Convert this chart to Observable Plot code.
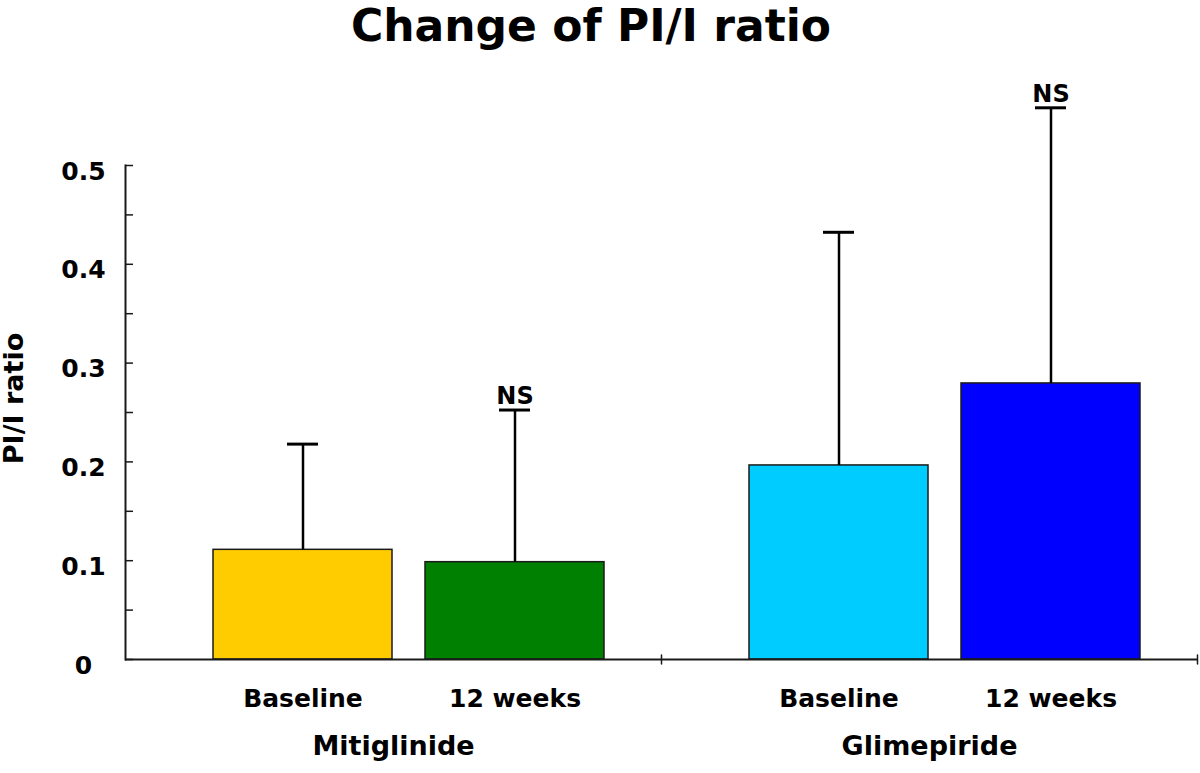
<!DOCTYPE html>
<html><head><meta charset="utf-8">
<script src="https://cdn.jsdelivr.net/npm/d3@7"></script>
<script src="https://cdn.jsdelivr.net/npm/@observablehq/plot@0.6"></script>
<style>
body{margin:0;background:#fff;font-family:"DejaVu Sans",sans-serif;}
#title{width:1200px;height:60px;box-sizing:border-box;padding-right:18px;text-align:center;font-weight:bold;font-size:44px;line-height:52px;color:#000;}
</style></head><body>
<div id="title">Change of PI/I ratio</div>
<div id="chart"></div>
<script>
// ---- data ----
const groups = ["Mitiglinide", "Mitiglinide", "Glimepiride", "Glimepiride"];
const periods = ["Baseline", "12 weeks", "Baseline", "12 weeks"];
const means = [0.111, 0.0985, 0.1964, 0.2794];
const sds = [0.107, 0.154, 0.236, 0.279];
const notes = ["", "NS", "", "NS"];
const groupOrder = ["Mitiglinide", "Glimepiride"];
const periodOrder = ["Baseline", "12 weeks"];
const majorTicks = [0, 0.1, 0.2, 0.3, 0.4, 0.5];
const minorTicks = [0.05, 0.15, 0.25, 0.35, 0.45];
const tickLabels = ["0", "0.1", "0.2", "0.3", "0.4", "0.5"];
const yLabel = "PI/I ratio";
const palette = ["#FFCC00", "#008000", "#00CCFF", "#0000FF"];

const rows = groups.map((g, i) => ({
  group: g, period: periods[i], mean: means[i], sd: sds[i], note: notes[i], key: g + " " + periods[i]
}));
const allTicks = majorTicks.concat(minorTicks);
const tickUp = {draw(context, l) { context.moveTo(0, 0); context.lineTo(0, -l); }};

const chart = Plot.plot({
  width: 1200, height: 713,
  marginTop: 105, marginBottom: 114, marginLeft: 125, marginRight: 3,
  style: {fontFamily: "DejaVu Sans", fontWeight: "bold", color: "#000", background: "#fff", overflow: "visible"},
  fx: {domain: groupOrder, padding: 0, axis: null},
  x: {domain: periodOrder, paddingInner: 0.155, paddingOuter: 0.338, align: 0.607},
  y: {domain: [0, 0.5]},
  color: {domain: rows.map(d => d.key), range: palette},
  marks: [
    Plot.barY(rows, {fx: "group", x: "period", y: "mean", fill: "key", stroke: "#1a1a1a", strokeWidth: 1.5}),
    Plot.ruleX(rows, {fx: "group", x: "period", y1: "mean", y2: d => d.mean + d.sd, stroke: "#000", strokeWidth: 2.5}),
    Plot.tickY(rows, {fx: "group", x: "period", y: d => d.mean + d.sd, stroke: "#000", strokeWidth: 3, insetLeft: 74, insetRight: 74}),
    Plot.text(rows.filter(d => d.note), {fx: "group", x: "period", y: d => d.mean + d.sd, text: "note", lineAnchor: "bottom", dy: -6, fontSize: 24, fontWeight: "bold", fill: "#000"}),
    Plot.ruleY([0], {stroke: "#1a1a1a", strokeWidth: 2}),
    Plot.frame({anchor: "left", facetAnchor: "left", stroke: "#1a1a1a", strokeWidth: 2}),
    Plot.vector([null], {frameAnchor: "bottom-right", length: 9, shape: tickUp, stroke: "#1a1a1a", strokeWidth: 1.5}),
    Plot.axisY({ticks: allTicks, tickSize: -8, text: null, label: null, strokeWidth: 1.5, stroke: "#1a1a1a"}),
    Plot.axisY({ticks: majorTicks, tickSize: 0, tickPadding: 42, textAnchor: "middle", dy: 6, label: null,
      tickFormat: d => tickLabels[majorTicks.indexOf(d)], fontSize: 25, fontWeight: "bold", fill: "#000"}),
    Plot.axisX({tickSize: 0, tickPadding: 30, fontSize: 25, fontWeight: "bold", label: null, fill: "#000"}),
    Plot.text(groupOrder, {fx: d => d, text: d => d, frameAnchor: "bottom", dy: 95, fontSize: 27, fontWeight: "bold", fill: "#000"}),
    Plot.text([yLabel], {fx: () => groupOrder[0], text: d => d, frameAnchor: "left", textAnchor: "middle", rotate: -90, dx: -111, dy: -14, fontSize: 27, fontWeight: "bold", fill: "#000"})
  ]
});
document.getElementById("chart").appendChild(chart);
</script>
</body></html>
